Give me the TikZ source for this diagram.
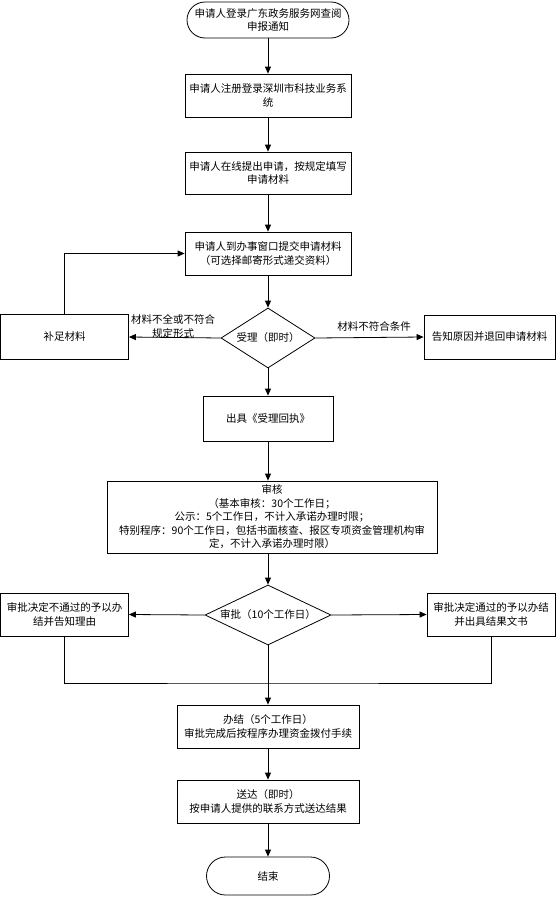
\documentclass[tikz,border=0pt]{standalone}
\usepackage{fontspec}
\newfontfamily\cjk{Noto Sans CJK SC}
\usetikzlibrary{shapes.geometric,arrows.meta,positioning}

\begin{document}
\begin{tikzpicture}[x=1pt,y=-1pt,
    box/.style={draw,line width=0.8pt,align=center,inner sep=1pt,
        font=\cjk\fontsize{10.5}{13.5}\selectfont},
    term/.style={box,rounded corners=18pt},
    choice/.style={box,diamond},
    flow/.style={line width=0.8pt,-{Triangle[length=7pt,width=6pt]}},
    link/.style={line width=0.8pt},
    note/.style={align=center,inner sep=0pt,
        font=\cjk\fontsize{10.5}{13.5}\selectfont}]
        \useasboundingbox (0,0) rectangle (556,897);

        % Main column
        \node[term, minimum width=162, minimum height=36] (start) at (268,20)
            {申请人登录广东政务服务网查阅\\申报通知};
        \node[box, minimum width=166, minimum height=43] (reg) at (268,95.5)
            {申请人注册登录深圳市科技业务系\\统};
        \node[box, minimum width=166, minimum height=42] (online) at (268,173)
            {申请人在线提出申请，按规定填写\\申请材料};
        \node[box, minimum width=166, minimum height=43] (submit) at (268,253.5)
            {申请人到办事窗口提交申请材料\\（可选择邮寄形式递交资料）};
        \node[choice, aspect=1.6, minimum width=94, minimum height=60] (accept) at (268,338)
            {受理（即时）};
        \node[box, minimum width=130, minimum height=45] (receipt) at (268,418.5)
            {出具《受理回执》};
        \node[box, minimum width=330, minimum height=72] (review) at (272,517)
            {审核\\（基本审核：30个工作日；\\公示：5个工作日，不计入承诺办理时限；\\特别程序：90个工作日，包括书面核查、报区专项资金管理机构审\\定，不计入承诺办理时限）};
        \node[choice, aspect=2.1, minimum width=126, minimum height=60] (approve) at (268,615)
            {审批（10个工作日）};
        \node[box, minimum width=182, minimum height=43] (finish) at (268,726.5)
            {办结（5个工作日）\\审批完成后按程序办理资金拨付手续};
        \node[box, minimum width=182, minimum height=43] (deliver) at (268,801.5)
            {送达（即时）\\按申请人提供的联系方式送达结果};
        \node[term, minimum width=123, minimum height=38, rounded corners=19pt] (end) at (268,876)
            {结束};

        % Side boxes
        \node[box, minimum width=128, minimum height=45] (supp) at (64.5,337) {补足材料};
        \node[box, minimum width=131, minimum height=44] (reject) at (489.5,337) {告知原因并退回申请材料};
        \node[box, minimum width=128, minimum height=43] (nopass) at (64.5,614.5)
            {审批决定不通过的予以办\\结并告知理由};
        \node[box, minimum width=128, minimum height=43] (pass) at (491,614.5)
            {审批决定通过的予以办结\\并出具结果文书};

        % Labels
        \node[note] (lblshort) at (173,326.5) {材料不全或不符合\\规定形式};
        \node[note] (lblbad) at (374,326) {材料不符合条件};

        % Arrows
        \draw[flow] (start) -- (reg);
        \draw[flow] (reg) -- (online);
        \draw[flow] (online) -- (submit);
        \draw[flow] (submit) -- (accept);
        \draw[flow] (accept) -- (receipt);
        \draw[flow] (receipt.south) -- (receipt.south |- review.north);
        \draw[flow] (review.south -| approve.north) -- (approve.north);
        \draw[flow] (approve) -- (finish);
        \draw[flow] (finish) -- (deliver);
        \draw[flow] (deliver) -- (end);

        \draw[flow] (accept.west) -- (supp.east);
        \draw[flow] (accept.east) -- (reject.west);
        \draw[flow] (supp.north) |- (submit.west);
        \draw[flow] (approve.west) -- (nopass.east);
        \draw[flow] (approve.east) -- (pass.west);

        % Merge below the decision
        \coordinate (merge) at (268,683);
        \draw[link] (nopass.south) |- (merge) -| (pass.south);
    \end{tikzpicture}
\end{document}
